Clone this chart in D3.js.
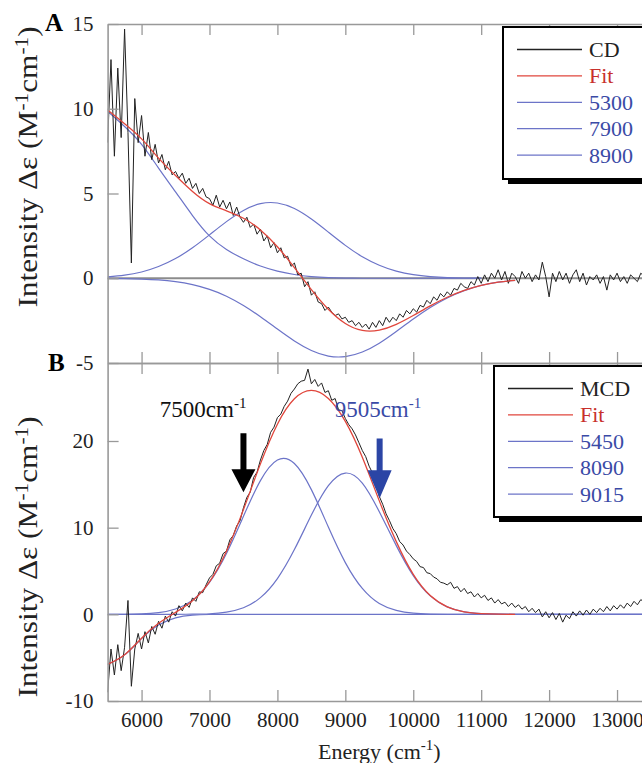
<!DOCTYPE html>
<meta charset="utf-8">
<style>
body { margin: 0; background: #fff; }
svg text { font-family: "Liberation Serif", "DejaVu Serif", "Times New Roman", serif; }
.axis .domain { stroke: #999; stroke-width: 1.6; }
.axis .tick line { stroke: #999; stroke-width: 1.3; }
.axis text { font-size: 21px; fill: #222; }
</style>
<svg width="642" height="763" font-family="Liberation Serif"></svg>
<script src="https://d3js.org/d3.v7.min.js"></script>
<script>

// energy grid of the measured traces (cm-1), one point every 50
var traceEnergy = d3.range(5500, 13501, 50);

// energy grid of the fitted curves (cm-1)
var fitEnergy = [5500, 5750, 6000, 6250, 6500, 6750, 7000, 7250, 7500, 7750, 8000,
  8250, 8500, 8750, 9000, 9250, 9500, 9750, 10000, 10250, 10500, 10750, 11000,
  11250, 11500, 11750, 12000, 12250, 12500, 12750, 13000, 13250, 13500];

// panel A: CD
var cdTrace = [
  8.0, 12.9, 7.2, 12.4, 8.3, 14.7, 8.6, 0.9, 10.6, 8.0,
  9.6, 7.2, 8.6, 7.0, 7.9, 6.8, 7.3, 6.4, 6.9, 6.1,
  6.3, 5.9, 6.2, 5.6, 5.9, 5.3, 5.6, 5.0, 5.3, 4.8,
  4.7, 4.3, 4.9, 4.2, 4.6, 4.1, 4.5, 3.7, 4.2, 3.6,
  3.3, 3.6, 3.0, 3.2, 2.6, 2.9, 2.2, 2.5, 1.8, 2.1,
  1.5, 1.8, 1.2, 1.3, 0.7, 0.9, 0.2, 0.3, -0.5, -0.2,
  -1.0, -0.8, -1.4, -1.5, -1.9, -1.7, -2.0, -2.2, -2.1, -2.4,
  -2.3, -2.6, -2.5, -2.8, -2.6, -2.9, -2.7, -3.0, -2.6, -2.9,
  -2.5, -2.8, -2.3, -2.6, -2.3, -2.5, -2.1, -2.3, -1.9, -2.1,
  -1.8, -2.0, -1.6, -1.7, -1.3, -1.5, -1.1, -1.3, -0.9, -1.1,
  -0.8, -1.0, -0.6, -0.7, -0.3, -0.5, -0.6, -0.2, -0.4, 0.1,
  -0.3, 0.2, -0.2, 0.3, 0.0, 0.5, -0.1, 0.4, -0.3, 0.3,
  0.1, -0.3, 0.4, 0.0, 0.3, -0.2, 0.2, -0.1, 0.95, 0.1,
  -1.1, 0.3, -0.2, 0.4, -0.1, 0.3, -0.3, 0.2, 0.5, -0.2,
  0.3, -0.4, 0.1, -0.1, 0.2, -0.3, 0.1, -0.7, 0.2, -0.1,
  0.3, -0.2, 0.1, -0.3, 0.2, 0.0, -0.2, 0.3, 0.1, -0.1,
  0.0];
var cdFit = [9.93, 9.11, 8.22, 7.09, 6.06, 5.12, 4.40, 3.98, 3.54, 2.85, 1.86,
  0.63, -0.67, -1.83, -2.67, -3.08, -3.06, -2.72, -2.20, -1.63, -1.12, -0.72, -0.42,
  -0.23, -0.12];
var cd5300 = [9.85, 8.95, 7.90, 6.50, 5.10, 3.70, 2.50, 1.70, 1.15, 0.72, 0.42,
  0.22, 0.10, 0.04, 0.01, 0, 0, 0, 0, 0, 0, 0, 0];
var cd7900 = [0.085, 0.185, 0.37, 0.69, 1.16, 1.80, 2.56, 3.34, 4.00, 4.40, 4.44,
  4.11, 3.49, 2.72, 1.94, 1.27, 0.77, 0.42, 0.21, 0.10, 0.04, 0.015, 0.005];
var cd8900 = [-0.01, -0.02, -0.05, -0.10, -0.20, -0.38, -0.66, -1.06, -1.61, -2.27, -3.00,
  -3.70, -4.26, -4.59, -4.62, -4.35, -3.83, -3.14, -2.41, -1.73, -1.16, -0.73, -0.42,
  -0.23, -0.12];

// panel B: MCD
var mcdTrace = [
  -9.0, -4.0, -7.0, -3.5, -6.5, -3.8, 1.6, -8.3, -4.0, -2.2,
  -4.0, -2.0, -3.3, -1.4, -2.3, -0.8, -1.6, -0.2, -0.9, 0.3,
  -0.2, 1.0, 0.4, 1.3, 0.8, 1.9, 1.5, 2.6, 2.5, 3.4,
  4.2, 4.6, 5.6, 5.9, 7.0, 7.3, 8.6, 9.1, 10.2, 10.8,
  12.3, 13.5, 14.1, 15.8, 16.4, 17.8, 18.9, 19.6, 21.0, 21.6,
  22.7, 23.1, 24.0, 24.6, 25.5, 26.0, 26.6, 26.9, 27.0, 28.3,
  26.6, 27.1, 26.3, 26.7, 25.6, 25.8, 24.7, 24.9, 23.6, 23.5,
  22.6, 21.9, 21.4, 20.7, 19.8, 18.9, 18.2, 17.1, 16.3, 15.0,
  13.6, 12.7, 11.6, 10.8, 9.9, 9.3, 8.4, 8.0, 7.3, 6.9,
  6.4, 6.1, 5.5, 5.4, 4.8, 4.7, 4.3, 4.1, 3.7, 3.6,
  3.4, 3.7, 3.0, 3.2, 2.6, 3.0, 2.4, 2.6, 2.0, 2.4,
  1.9, 2.2, 1.6, 1.9, 1.3, 1.7, 1.2, 1.4, 0.9, 1.3,
  0.8, 1.1, 0.6, 0.9, 0.3, 0.7, 0.2, 0.6, -0.3, 0.3,
  -0.4, 0.2, -0.6, 0.1, -0.9, -0.1, -0.5, 0.3, -0.2, 0.4,
  -0.1, 0.5, 0.0, 0.6, 0.2, 0.7, 0.3, 0.9, 0.4, 1.0,
  0.6, 1.1, 0.7, 1.3, 0.9, 1.5, 1.1, 1.7, 1.4, 1.9,
  1.6];
var mcdFit = [-5.78, -4.67, -2.75, -1.04, 0.22, 1.56, 3.75, 7.29, 12.08, 17.36, 21.94,
  24.87, 25.84, 24.91, 22.27, 18.13, 13.09, 8.39, 4.61, 2.17, 0.87, 0.29, 0.09,
  0.02, 0];
var mcd5450 = [-5.78, -4.68, -2.80, -1.24, -0.40, -0.10, -0.02, 0, 0, 0, 0,
  0, 0, 0, 0, 0, 0, 0, 0, 0, 0, 0, 0, 0, 0, 0, 0, 0, 0, 0, 0, 0, 0];
var mcd8090 = [0, 0.01, 0.05, 0.20, 0.62, 1.64, 3.69, 7.03, 11.32, 15.43, 17.81,
  17.40, 14.39, 10.07, 5.97, 2.99, 1.25, 0.46, 0.14, 0.04, 0.01, 0, 0,
  0, 0, 0, 0, 0, 0, 0, 0, 0, 0];
var mcd9015 = [0, 0, 0, 0, 0, 0.02, 0.07, 0.26, 0.76, 1.93, 4.13,
  7.47, 11.45, 14.84, 16.30, 15.14, 11.84, 7.93, 4.47, 2.13, 0.86, 0.29, 0.09,
  0.02, 0, 0, 0, 0, 0, 0, 0, 0, 0];

var xTicks = [6000, 7000, 8000, 9000, 10000, 11000, 12000, 13000];
var yTicksA = [15, 10, 5, 0, -5];
var yTicksB = [20, 10, 0, -10];
var legendA = ["CD", "Fit", "5300", "7900", "8900"];
var legendB = ["MCD", "Fit", "5450", "8090", "9015"];

// arrows in panel B: energy, label, top and tip (in delta-epsilon units)
var arrowEnergy = [7500, 9505];
var arrowLabel = ["7500cm", "9505cm"];
var arrowTop = [20.9, 20.3];
var arrowTip = [14.1, 13.4];

var black = "#222", red = "#e0463c", blue = "#6c74c8", textBlue = "#3a4aa6";
var serif = "'Liberation Serif', 'DejaVu Serif', 'Times New Roman', serif";

var svg = d3.select("svg"),
    left = 107.6, right = 651,
    topA = 24, mid = 363, bottomB = 701;

var x = d3.scaleLinear().domain([5500, 13500]).range([left, right]);
var yA = d3.scaleLinear().domain([-5, 15]).range([mid, topA]);
var yB = d3.scaleLinear().domain([-10, 29]).range([bottomB, mid]);

var defs = svg.append("defs");
defs.append("clipPath").attr("id", "clipA").append("rect")
  .attr("x", left).attr("y", topA).attr("width", right - left).attr("height", mid - topA);
defs.append("clipPath").attr("id", "clipB").append("rect")
  .attr("x", left).attr("y", mid).attr("width", right - left).attr("height", bottomB - mid);

function pairs(energy, vals) {
  return vals.map(function(v, i) { return [energy[i], v]; });
}

function drawCurve(g, y, energy, vals, color, width, smooth) {
  var line = d3.line()
    .x(function(d) { return x(d[0]); })
    .y(function(d) { return y(d[1]); })
    .curve(smooth ? d3.curveNatural : d3.curveLinear);
  g.append("path")
    .datum(pairs(energy, vals))
    .attr("fill", "none")
    .attr("stroke", color)
    .attr("stroke-width", width)
    .attr("stroke-linejoin", "round")
    .attr("d", line);
}

//Panel A
var gA = svg.append("g").attr("clip-path", "url(#clipA)");
gA.append("line")
  .attr("x1", left).attr("x2", right)
  .attr("y1", yA(0)).attr("y2", yA(0))
  .attr("stroke", "#8c8c8c").attr("stroke-width", 2);
drawCurve(gA, yA, fitEnergy, cd5300, blue, 1.2, true);
drawCurve(gA, yA, fitEnergy, cd7900, blue, 1.2, true);
drawCurve(gA, yA, fitEnergy, cd8900, blue, 1.2, true);
drawCurve(gA, yA, traceEnergy, cdTrace, black, 1, false);
drawCurve(gA, yA, fitEnergy, cdFit, red, 1.3, true);

//Panel B
var gB = svg.append("g").attr("clip-path", "url(#clipB)");
drawCurve(gB, yB, fitEnergy, mcd5450, blue, 1.2, true);
drawCurve(gB, yB, fitEnergy, mcd8090, blue, 1.2, true);
drawCurve(gB, yB, fitEnergy, mcd9015, blue, 1.2, true);
drawCurve(gB, yB, traceEnergy, mcdTrace, black, 1, false);
drawCurve(gB, yB, fitEnergy, mcdFit, red, 1.3, true);

//Axes, ticks pointing inwards
function fmt(d) { return String(d); }

function styleAxis(g) {
  g.attr("font-family", serif).attr("font-size", 21);
}

svg.append("g").attr("class", "axis")
  .attr("transform", "translate(" + left + ",0)")
  .call(d3.axisLeft(yA).tickValues(yTicksA).tickFormat(fmt)
    .tickSizeInner(-11).tickSizeOuter(0).tickPadding(14))
  .call(styleAxis);
svg.append("g").attr("class", "axis")
  .attr("transform", "translate(" + left + ",0)")
  .call(d3.axisLeft(yB).tickValues(yTicksB).tickFormat(fmt)
    .tickSizeInner(-11).tickSizeOuter(0).tickPadding(14))
  .call(styleAxis);
svg.append("g").attr("class", "axis")
  .attr("transform", "translate(0," + topA + ")")
  .call(d3.axisTop(x).tickValues(xTicks).tickFormat("").tickSizeInner(-11).tickSizeOuter(0));
svg.append("g").attr("class", "axis")
  .attr("transform", "translate(0," + mid + ")")
  .call(d3.axisBottom(x).tickValues(xTicks).tickFormat("").tickSizeInner(-11).tickSizeOuter(0));
svg.append("g").attr("class", "axis")
  .attr("transform", "translate(0," + mid + ")")
  .call(d3.axisTop(x).tickValues(xTicks).tickFormat("").tickSizeInner(-11).tickSizeOuter(0));
svg.append("g").attr("class", "axis")
  .attr("transform", "translate(0," + bottomB + ")")
  .call(d3.axisBottom(x).tickValues(xTicks).tickFormat(fmt)
    .tickSizeInner(-11).tickSizeOuter(0).tickPadding(11))
  .call(styleAxis);

//Axis titles
function supText(sel, parts, supSize) {
  parts.forEach(function(p) {
    if (p.sup) {
      sel.append("tspan").attr("dy", -9).attr("font-size", supSize).text(p.t);
    } else {
      sel.append("tspan").attr("dy", p.back ? 9 : 0).text(p.t);
    }
  });
}

var yTitle = [{t: "Intensity \u0394\u03b5 (M"}, {t: "-1", sup: true}, {t: "cm", back: true},
  {t: "-1", sup: true}, {t: ")", back: true}];

[167, 557].forEach(function(cy) {
  var t = svg.append("text")
    .attr("transform", "translate(37," + cy + ") rotate(-90) scale(1.12,1)")
    .attr("text-anchor", "middle")
    .attr("font-family", serif)
    .attr("font-size", 28)
    .attr("fill", "#222");
  supText(t, yTitle, 19);
});

var xt = svg.append("text")
  .attr("x", (left + right) / 2).attr("y", 759)
  .attr("text-anchor", "middle")
  .attr("font-family", serif)
  .attr("font-size", 22)
  .attr("fill", "#222");
supText(xt, [{t: "Energy (cm"}, {t: "-1", sup: true}, {t: ")", back: true}], 15);

svg.append("text").attr("x", 45).attr("y", 31).attr("font-family", serif)
  .attr("font-size", 25).attr("font-weight", "bold").text("A");
svg.append("text").attr("x", 48).attr("y", 371).attr("font-family", serif)
  .attr("font-size", 25).attr("font-weight", "bold").text("B");

//Legends with a drop shadow
function drawLegend(labels, bx, by, bh, firstY) {
  var lineColors = [black, red, blue, blue, blue],
      textColors = [black, "#c8302c", textBlue, textBlue, textBlue];
  var g = svg.append("g");
  g.append("rect").attr("x", bx + 5).attr("y", by + 5)
    .attr("width", 300).attr("height", bh).attr("fill", "#000");
  g.append("rect").attr("x", bx).attr("y", by)
    .attr("width", 300).attr("height", bh)
    .attr("fill", "#fff").attr("stroke", "#000").attr("stroke-width", 2);
  labels.forEach(function(l, i) {
    var yy = firstY + i * 26.4;
    g.append("line")
      .attr("x1", bx + 14).attr("x2", bx + 79)
      .attr("y1", yy).attr("y2", yy)
      .attr("stroke", lineColors[i]).attr("stroke-width", 1.3);
    g.append("text")
      .attr("x", bx + 86).attr("y", yy + 7.5)
      .attr("font-family", serif)
      .attr("font-size", 22).attr("fill", textColors[i])
      .text(l);
  });
}
drawLegend(legendA, 503, 27, 152, 49.5);
drawLegend(legendB, 494, 366, 151, 388.5);

//Arrows pointing at the band positions
var arrowColor = ["#000", "#2b45a5"];
arrowEnergy.forEach(function(e, i) {
  var X = x(e), Y0 = yB(arrowTop[i]), Y1 = yB(arrowTip[i]),
      sw = 6, hw = 24, hh = i == 0 ? 23 : 28;
  svg.append("path")
    .attr("d", "M" + (X - sw / 2) + "," + Y0 + "L" + (X + sw / 2) + "," + Y0 +
      "L" + (X + sw / 2) + "," + (Y1 - hh) + "L" + (X + hw / 2) + "," + (Y1 - hh) +
      "L" + X + "," + Y1 + "L" + (X - hw / 2) + "," + (Y1 - hh) +
      "L" + (X - sw / 2) + "," + (Y1 - hh) + "Z")
    .attr("fill", arrowColor[i]);
  var t = svg.append("text")
    .attr("x", i == 0 ? X + 3 : X - 45)
    .attr("y", yB(22.8))
    .attr("text-anchor", i == 0 ? "end" : "start")
    .attr("font-family", serif)
    .attr("font-size", 23)
    .attr("fill", i == 0 ? "#111" : textBlue);
  supText(t, [{t: arrowLabel[i]}, {t: "-1", sup: true}], 15);
});

</script>
